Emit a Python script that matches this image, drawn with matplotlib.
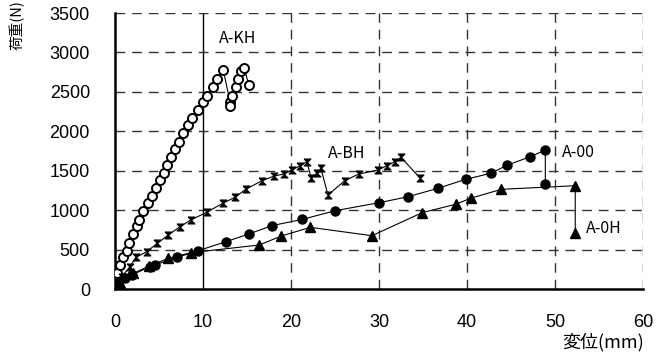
import matplotlib
matplotlib.use('Agg')
import matplotlib.pyplot as plt
from matplotlib.path import Path

plt.rcParams['font.family'] = ['Liberation Sans', 'Noto Sans CJK JP', 'DejaVu Sans']

# A-KH (白丸)
kh_x = [0, 0.05, 0.19, 0.57, 0.87, 1.33, 1.63, 2.0, 2.46, 2.76, 3.2, 3.7, 4.24, 4.66, 5.1, 5.57, 5.87,
        6.36, 6.8, 7.3, 7.77, 8.3, 8.75, 9.47, 9.96, 10.45, 11.17, 11.55, 12.3, 13.07, 13.07, 13.3,
        13.75, 14.0, 14.35, 14.7, 15.2]
kh_y = [0, 114, 207, 304, 402, 486, 587, 697, 799, 875, 993, 1087, 1179, 1277, 1382, 1467, 1572,
        1678, 1770, 1868, 1974, 2080, 2164, 2270, 2375, 2451, 2561, 2663, 2777, 2375, 2320, 2451,
        2557, 2663, 2764, 2798, 2587]

# A-BH
bh_x = [0, 0.76, 1.7, 2.39, 3.6, 4.8, 6.06, 7.39, 8.6, 10.42, 12.24, 13.64, 14.85, 16.7, 18.1, 19.2,
        20.08, 21.0, 21.8, 22.3, 22.9, 23.4, 24.2, 26.1, 27.7, 29.9, 30.9, 31.8, 32.5, 34.7]
bh_y = [0, 156, 283, 402, 473, 579, 685, 790, 875, 972, 1087, 1163, 1264, 1373, 1433, 1458,
        1509, 1560, 1614, 1403, 1467, 1530, 1192, 1373, 1458, 1509, 1564, 1614, 1670, 1403]

# A-00 (黒丸)
a00_x = [0, 0.38, 1.14, 1.9, 3.98, 4.5, 7.1, 9.47, 12.6, 15.2, 17.8, 21.3, 25.0, 30.0, 33.3, 36.7,
         39.85, 42.7, 44.6, 47.2, 48.9, 48.9]
a00_y = [0, 93, 135, 178, 283, 304, 402, 486, 600, 697, 803, 883, 993, 1094, 1170, 1277,
         1391, 1467, 1572, 1678, 1762, 1331]

# A-0H (三角)
a0h_x = [0, 0.57, 2.08, 3.9, 6.06, 8.6, 16.4, 18.9, 22.2, 29.2, 34.9, 38.7, 40.4, 43.9, 52.3, 52.3]
a0h_y = [0, 72, 199, 292, 389, 460, 558, 672, 782, 676, 968, 1074, 1150, 1264, 1310, 706]

x_ticks = [0, 10, 20, 30, 40, 50, 60]
y_ticks = [0, 500, 1000, 1500, 2000, 2500, 3000, 3500]

# 砂時計型マーカー
hourglass = Path([(-1, 1), (1, 1), (-1, -1), (1, -1), (-1, 1)])

fig = plt.figure(figsize=(6.68, 3.63), dpi=100)
ax = fig.add_axes([115 / 668, 1 - 289 / 363, 528 / 668, 276 / 363])

# グリッド
for yv in y_ticks[1:]:
    ax.axhline(yv, color='#333333', lw=1, ls=(0, (7, 5)), zorder=1)
for xv in x_ticks[2:]:
    ax.axvline(xv, color='#333333', lw=1, ls=(0, (7, 5)), zorder=1)
ax.axvline(10, color='black', lw=1, zorder=1)

ax.plot(kh_x, kh_y, color='black', lw=0.8, marker='o', ms=6.5, mfc='white', mec='black', mew=1.4, zorder=3)
ax.plot(bh_x, bh_y, color='black', lw=0.8, marker=hourglass, ms=5, mfc='black', mec='black', mew=0.8, zorder=3)
ax.plot(a00_x, a00_y, color='black', lw=0.8, marker='o', ms=6.5, mfc='black', mec='black', zorder=3)
ax.plot(a0h_x, a0h_y, color='black', lw=0.8, marker='^', ms=7.5, mfc='black', mec='black', zorder=3)

lab_font = ['Noto Sans CJK JP', 'DejaVu Sans']
ax.text(13.9, 3180, 'A-KH', fontsize=11.5, family=lab_font, ha='center', va='center')
ax.text(26.3, 1720, 'A-BH', fontsize=11.5, family=lab_font, ha='center', va='center')
ax.text(52.6, 1730, 'A-00', fontsize=11.5, family=lab_font, ha='center', va='center')
ax.text(55.6, 770, 'A-0H', fontsize=11.5, family=lab_font, ha='center', va='center')

ax.set_xlim(0, 60)
ax.set_ylim(0, 3500)
ax.set_xticks(x_ticks)
ax.set_yticks(y_ticks)
ax.tick_params(length=0, labelsize=13)
ax.tick_params(axis='x', pad=18)
ax.tick_params(axis='y', pad=18)
for s in ['top', 'right']:
    ax.spines[s].set_visible(False)
ax.spines['left'].set_linewidth(1.8)
ax.spines['bottom'].set_linewidth(1.8)

fig.text(17 / 668, 1 - 25 / 363, '荷重(N)', rotation=90, fontsize=10.5, family=lab_font, ha='center', va='center')
fig.text(603 / 668, 1 - 342 / 363, '変位(mm)', fontsize=13, family=lab_font, ha='center', va='center')

fig.savefig('out.png', dpi=100)
